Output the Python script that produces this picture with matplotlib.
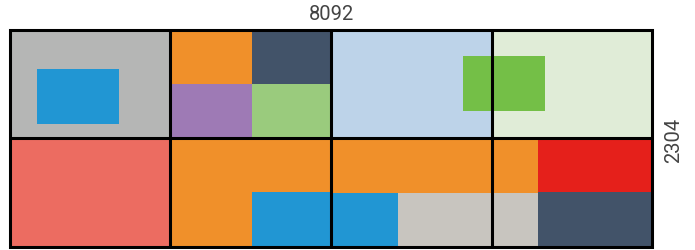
import matplotlib
matplotlib.use("Agg")
import matplotlib.pyplot as plt
from matplotlib.patches import Rectangle

total_width = 8092
total_height = 2304
bin_cols = 4
bin_rows = 2

item_x = [0, 346, 2023, 3052, 2023, 3052, 4046, 6069, 5707,
          0, 2023, 3052, 4046, 4046, 4889, 6069, 6651, 6651]
item_y = [0, 418, 0, 0, 576, 576, 0, 0, 280,
          1152, 1152, 1719, 1152, 1730, 1730, 1152, 1152, 1716]
item_w = [2023, 1032, 1029, 994, 1029, 994, 2023, 2023, 1032,
          2023, 2023, 994, 2023, 843, 1762, 582, 1441, 1441]
item_h = [1152, 582, 576, 576, 576, 576, 1152, 1152, 582,
          1152, 1152, 585, 578, 574, 574, 578, 564, 588]
item_colors = ["#b5b6b5", "#2196d3", "#f0902a", "#425369", "#9e7ab5", "#9acb7d",
               "#bdd3e9", "#e0ecd7", "#74bf47",
               "#ec6c61", "#f0902a", "#2196d3", "#f0902a", "#2196d3", "#c8c5bf",
               "#f0902a", "#e5201b", "#425369"]

W, H = 695, 251
fig = plt.figure(figsize=(W / 100, H / 100), dpi=100)
ax = fig.add_axes([9.5 / W, 1 - 248.3 / H, 643 / W, 217.8 / H])
ax.set_xlim(0, total_width)
ax.set_ylim(total_height, 0)
ax.axis("off")

for x, y, w, h, c in zip(item_x, item_y, item_w, item_h, item_colors):
    ax.add_patch(Rectangle((x, y), w, h, facecolor=c, edgecolor="none", zorder=1))

lw = 2.2
bw = total_width / bin_cols
bh = total_height / bin_rows
for i in range(1, bin_cols):
    ax.plot([i * bw, i * bw], [0, total_height], color="black", lw=lw, zorder=3,
            solid_capstyle="butt")
for j in range(1, bin_rows):
    ax.plot([0, total_width], [j * bh, j * bh], color="black", lw=lw, zorder=3,
            solid_capstyle="butt")
ax.add_patch(Rectangle((0, 0), total_width, total_height, facecolor="none",
                       edgecolor="black", lw=lw, zorder=4, clip_on=False))

fig.text(331 / W, 1 - 14.5 / H, str(total_width), ha="center", va="center",
         fontsize=14.5, color="#444444", family="Roboto")
fig.text(674 / W, 1 - 140 / H, str(total_height), ha="center", va="center",
         rotation=90, fontsize=14.5, color="#444444", family="Roboto")

fig.savefig("out.png", dpi=100)
